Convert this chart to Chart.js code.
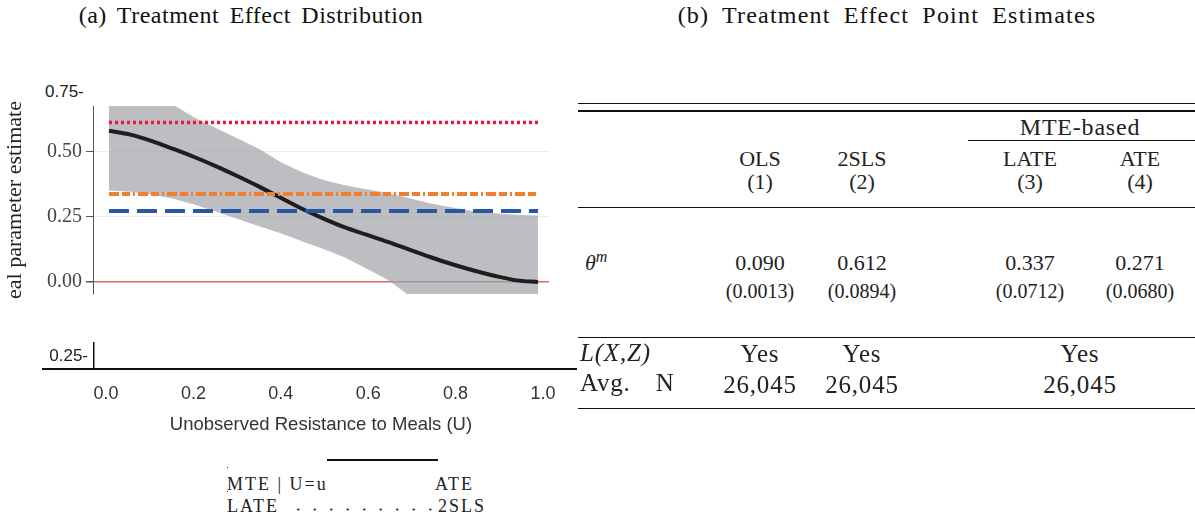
<!DOCTYPE html>
<html>
<head>
<meta charset="utf-8">
<script src="https://cdn.jsdelivr.net/npm/chart.js@4.4.1/dist/chart.umd.min.js"></script>
<style>
	body { margin: 0; background: #fff; }
	#page { position: relative; width: 1195px; height: 525px; overflow: hidden; font-family: 'Liberation Serif', serif; color: #1a1a1a; }
	.abs { position: absolute; white-space: nowrap; }
	.mid { position: absolute; white-space: nowrap; transform: translate(-50%, -50%); }
	.rule { position: absolute; background: #111; }
	.ptitle { font-size: 24px; letter-spacing: 0.5px; word-spacing: 4px; color: #111; }
	.tab { font-size: 22px; color: #222; }
	.se { font-size: 20px; color: #222; }
	.low { font-size: 25px; letter-spacing: 0.8px; color: #222; }
	.leg { font-size: 18px; letter-spacing: 2px; color: #222; transform: translateY(-50%); }
	canvas { position: absolute; left: 0; }
</style>
</head>
<body>
<div id="page">
	<div class="mid ptitle" style="left:251px; top:15px;">(a) Treatment Effect Distribution</div>
	<div class="mid ptitle" style="left:887px; top:15px; letter-spacing:1.2px; word-spacing:6px;">(b) Treatment Effect Point Estimates</div>

	<div class="abs" style="left:45px; top:82px; font-family:'Liberation Sans'; font-size:17px; color:#222;">0.75-</div>
	<canvas id="mteChart" width="560" height="220" style="top:90px;"></canvas>
	<canvas id="axisChart" width="600" height="115" style="top:327px;"></canvas>
	<div class="rule" style="left:42px; top:368px; width:535px; height:1.5px;"></div>

	<div id="legend"></div>
	<div id="table"></div>
</div>

<script>
// panel (a): marginal treatment effect over U
const uGrid = [0, 0.05, 0.1, 0.15, 0.2, 0.25, 0.3, 0.35, 0.4, 0.45, 0.5, 0.55, 0.6, 0.65, 0.7, 0.75, 0.8, 0.85, 0.9, 0.95, 1];
const mteValues = [0.580, 0.565, 0.540, 0.510, 0.478, 0.443, 0.405, 0.365, 0.322, 0.280, 0.242, 0.208, 0.180, 0.152, 0.122, 0.093, 0.066, 0.042, 0.021, 0.004, -0.002];
const bandLower = [0.350, 0.345, 0.335, 0.318, 0.295, 0.268, 0.240, 0.212, 0.185, 0.155, 0.125, 0.092, 0.050, 0.005, -0.055, -0.090, -0.110, -0.120, -0.120, -0.120, -0.120];
const bandUpper = [0.800, 0.760, 0.720, 0.680, 0.630, 0.590, 0.550, 0.510, 0.460, 0.420, 0.390, 0.370, 0.355, 0.340, 0.320, 0.300, 0.285, 0.270, 0.262, 0.257, 0.254];
const tslsValue = 0.612;
const lateValue = 0.337;
const ateValue = 0.271;
const yTicks = [0, 0.25, 0.5];
const xTicks = [0, 0.2, 0.4, 0.6, 0.8, 1.0];
const fragmentLabel = '0.25-';

// panel (b): point estimates
const colNames = ['OLS', '2SLS', 'LATE', 'ATE'];
const colNums = ['(1)', '(2)', '(3)', '(4)'];
const thetaEst = ['0.090', '0.612', '0.337', '0.271'];
const thetaSE = ['(0.0013)', '(0.0894)', '(0.0712)', '(0.0680)'];
const controlsRow = ['Yes', 'Yes', 'Yes'];
const nRow = ['26,045', '26,045', '26,045'];

const serif = 'Liberation Serif';
const sans = 'Liberation Sans';

const hline = (v) => [{ x: uGrid[0], y: v }, { x: uGrid[uGrid.length - 1], y: v }];
const pts = (arr) => uGrid.map((u, i) => ({ x: u, y: arr[i] }));

new Chart(document.getElementById('mteChart'), {
	type: 'line',
	data: {
		datasets: [
			{
				label: '2SLS',
				data: hline(tslsValue),
				borderColor: '#e8193a',
				borderWidth: 3.5,
				borderDash: [3, 3],
				pointRadius: 0,
				order: 1
			},
			{
				label: 'LATE',
				data: hline(lateValue),
				borderColor: '#ee8030',
				borderWidth: 4,
				borderDash: [10, 3, 8, 3, 2, 3],
				pointRadius: 0,
				order: 2
			},
			{
				label: 'ATE',
				data: hline(ateValue),
				borderColor: '#2a56a2',
				borderWidth: 4,
				borderDash: [20, 8],
				pointRadius: 0,
				order: 3
			},
			{
				label: 'MTE|U=u',
				data: pts(mteValues),
				borderColor: '#1e1e1e',
				borderWidth: 4,
				cubicInterpolationMode: 'monotone',
				pointRadius: 0,
				order: 4
			},
			{
				label: 'lower',
				data: pts(bandLower),
				borderColor: 'transparent',
				borderWidth: 0,
				pointRadius: 0,
				fill: false,
				order: 6
			},
			{
				label: 'upper',
				data: pts(bandUpper),
				borderColor: 'transparent',
				borderWidth: 0,
				pointRadius: 0,
				backgroundColor: 'rgba(160,162,168,0.7)',
				fill: '-1',
				order: 5
			}
		]
	},
	options: {
		responsive: false,
		animation: false,
		layout: { padding: { top: 15, bottom: 11, right: 11, left: 0 } },
		plugins: { legend: { display: false }, tooltip: { enabled: false } },
		scales: {
			x: { type: 'linear', min: -0.0373, max: 1.0256, display: false },
			y: {
				min: -0.0485,
				max: 0.6754,
				afterBuildTicks: (s) => {
					s.ticks = yTicks.map((v) => ({ value: v }));
				},
				afterFit: (s) => {
					s.width = 93;
				},
				border: { display: true, color: '#555', width: 1 },
				grid: {
					color: (c) => (c.tick && c.tick.value === 0 ? '#d86a6a' : '#ececec'),
					lineWidth: (c) => (c.tick && c.tick.value === 0 ? 1.5 : 1),
					tickColor: '#555',
					tickLength: 7
				},
				ticks: {
					font: { family: serif, size: 20 },
					color: '#444',
					padding: 4,
					callback: (v) => Number(v).toFixed(2)
				},
				title: {
					display: true,
					text: 'eal parameter estimate',
					font: { family: serif, size: 22 },
					color: '#222',
					padding: { top: 2, bottom: 0 }
				}
			}
		}
	}
});

// the cut-off axis fragment under panel (a)
new Chart(document.getElementById('axisChart'), {
	type: 'line',
	data: { datasets: [] },
	options: {
		responsive: false,
		animation: false,
		layout: { padding: { top: 10, right: 52, bottom: 0, left: 0 } },
		plugins: { legend: { display: false }, tooltip: { enabled: false } },
		scales: {
			x: {
				type: 'linear',
				min: -0.0275,
				max: 1.0114,
				afterBuildTicks: (s) => {
					s.ticks = xTicks.map((v) => ({ value: v }));
				},
				afterFit: (s) => {
					s.height = 73;
				},
				border: { display: false },
				grid: { display: false, drawTicks: false },
				ticks: {
					font: { family: sans, size: 18 },
					color: '#333',
					padding: 14,
					maxRotation: 0,
					autoSkip: false,
					callback: (v) => Number(v).toFixed(1)
				},
				title: {
					display: true,
					text: 'Unobserved Resistance to Meals (U)',
					font: { family: sans, size: 18.5 },
					color: '#333',
					padding: { top: 9, bottom: 6 }
				}
			},
			y: {
				min: 0,
				max: 1,
				afterBuildTicks: (s) => {
					s.ticks = [{ value: 0.5 }];
				},
				afterFit: (s) => {
					s.width = 94;
				},
				border: { display: true, color: '#111', width: 1.5 },
				grid: { display: false, drawTicks: false },
				ticks: {
					font: { family: sans, size: 17 },
					color: '#222',
					padding: 6,
					callback: () => fragmentLabel
				}
			}
		}
	}
});

// legend remnants
const legend = document.getElementById('legend');
legend.innerHTML = `
	<div class="abs leg" style="left:227px; top:484px;">MTE | U=u</div>
	<div class="abs leg" style="left:435px; top:484px;">ATE</div>
	<div class="abs leg" style="left:227px; top:506px;">LATE</div>
	<div class="abs leg" style="left:438px; top:506px;">2SLS</div>
	<div class="rule" style="left:327px; top:459px; width:111px; height:1.5px;"></div>
	<div class="abs" style="left:290px; top:508px; width:146px; height:3px;
		background-image: radial-gradient(circle, #333 0.9px, transparent 1.3px); background-size: 16.5px 3px;"></div>
	<div class="abs" style="left:227px; top:467px; width:1px; height:1px; background:#333;"></div>
	<div class="abs" style="left:227px; top:491px; width:1px; height:1px; background:#333;"></div>
`;

// table, panel (b)
const colX = [760, 862, 1030, 1140];
const groupX = 1080;
const table = document.getElementById('table');
let html = '';
html += `<div class="rule" style="left:578px; top:103px; width:617px; height:1px;"></div>`;
html += `<div class="rule" style="left:578px; top:110px; width:617px; height:1.5px;"></div>`;
html += `<div class="mid tab" style="left:${groupX}px; top:127px; font-size:24px; letter-spacing:0.8px;">MTE-based</div>`;
html += `<div class="rule" style="left:968px; top:140px; width:227px; height:1px;"></div>`;
colNames.forEach((n, i) => {
	html += `<div class="mid tab" style="left:${colX[i]}px; top:159px;">${n}</div>`;
	html += `<div class="mid tab" style="left:${colX[i]}px; top:182px;">${colNums[i]}</div>`;
	html += `<div class="mid tab" style="left:${colX[i]}px; top:263px;">${thetaEst[i]}</div>`;
	html += `<div class="mid se" style="left:${colX[i]}px; top:291px;">${thetaSE[i]}</div>`;
});
html += `<div class="rule" style="left:578px; top:207px; width:617px; height:1px;"></div>`;
html += `<div class="abs tab" style="left:585px; top:248px;"><i>θ</i><sup style="font-size:16px;"><i>m</i></sup></div>`;
html += `<div class="rule" style="left:578px; top:337px; width:617px; height:1px;"></div>`;
html += `<div class="abs low" style="left:580px; top:339px;"><i>L(X,Z)</i></div>`;
html += `<div class="abs low" style="left:580px; top:369px; word-spacing:18px;">Avg. N</div>`;
const rowX = [colX[0], colX[1], groupX];
controlsRow.forEach((v, i) => {
	html += `<div class="mid low" style="left:${rowX[i]}px; top:354px;">${v}</div>`;
});
nRow.forEach((v, i) => {
	html += `<div class="mid low" style="left:${rowX[i]}px; top:385px;">${v}</div>`;
});
html += `<div class="rule" style="left:578px; top:408px; width:617px; height:1px;"></div>`;
table.innerHTML = html;
</script>
</body>
</html>
